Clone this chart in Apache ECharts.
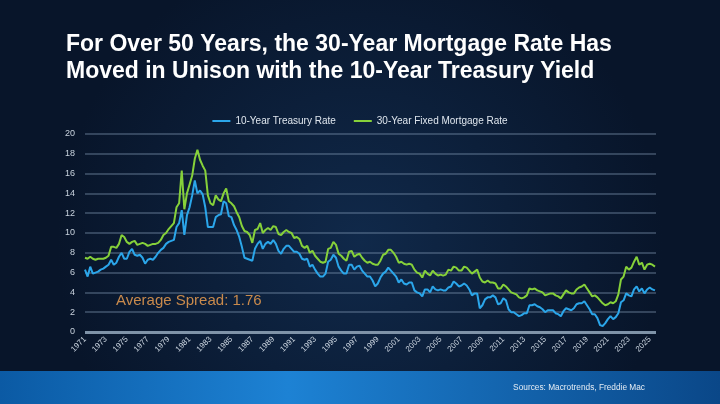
<!DOCTYPE html>
<html>
<head>
<meta charset="utf-8">
<script src="https://cdn.jsdelivr.net/npm/echarts@6/dist/echarts.min.js"></script>
<style>
  html, body { margin: 0; padding: 0; background: #0a1a2d; }
  #chart { width: 720px; height: 404px; }
</style>
</head>
<body>
<div id="chart"></div>
<script>
// quarterly samples, first value is Q1 1971
const startYear = 1971
const treasury = [
  6.3, 5.6, 6.6, 5.9,   6.0, 6.1, 6.3, 6.4,   6.6, 6.8, 7.3, 6.8,   7.0, 7.6, 8.0, 7.4,
  7.4, 8.1, 8.4, 7.8,   7.7, 7.8, 7.5, 6.9,   7.3, 7.4, 7.3, 7.6,   8.0, 8.3, 8.5, 8.9,
  9.1, 9.2, 9.3, 10.6,  11.0, 12.3, 9.8, 11.8, 12.6, 13.8, 15.3, 14.0, 14.3, 13.9, 12.6, 10.6,
  10.6, 10.6, 11.6, 11.8, 11.9, 13.2, 13.0, 11.7, 11.6, 10.8, 10.3, 9.6, 8.6, 7.5, 7.4, 7.3,
  7.2, 8.4, 8.9, 9.2,   8.4, 8.9, 9.1, 8.9,   9.3, 8.9, 8.2, 7.9,   8.4, 8.7, 8.7, 8.4,
  8.1, 8.1, 7.9, 7.4,   7.3, 7.4, 6.6, 6.8,   6.3, 5.9, 5.6, 5.6,   5.9, 7.1, 7.3, 7.8,
  7.5, 6.6, 6.2, 5.9,   5.9, 6.8, 6.8, 6.3,   6.6, 6.7, 6.2, 5.9,   5.6, 5.6, 5.2, 4.6,
  4.9, 5.5, 5.9, 6.1,   6.5, 6.2, 5.9, 5.6,   5.0, 5.3, 4.9, 4.8,   5.0, 5.0, 4.2, 4.0,
  3.9, 3.6, 4.3, 4.3,   4.0, 4.6, 4.3, 4.2,   4.3, 4.2, 4.2, 4.5,   4.6, 5.1, 4.9, 4.6,
  4.7, 4.9, 4.7, 4.3,   3.7, 3.9, 3.9, 2.4,   2.7, 3.3, 3.5, 3.5,   3.7, 3.5, 2.8, 2.9,
  3.4, 3.2, 2.3, 2.0,   2.0, 1.8, 1.6, 1.7,   1.9, 1.9, 2.7, 2.7,   2.8, 2.6, 2.5, 2.3,
  2.0, 2.2, 2.2, 2.2,   1.9, 1.8, 1.6, 2.1,   2.4, 2.3, 2.2, 2.4,   2.8, 2.9, 2.9, 3.1,
  2.7, 2.3, 1.8, 1.8,   1.4, 0.7, 0.6, 0.9,   1.3, 1.6, 1.3, 1.5,   1.9, 3.0, 3.2, 3.9,
  3.7, 3.6, 4.3, 4.6,   4.1, 4.4, 3.9, 4.3,   4.5, 4.3, 4.2
]
const mortgage = [
  7.5, 7.4, 7.6, 7.4,   7.3, 7.4, 7.4, 7.4,   7.5, 7.7, 8.6, 8.6,   8.5, 8.9, 9.8, 9.6,
  9.1, 8.9, 9.1, 9.2,   8.8, 8.9, 9.0, 8.9,   8.7, 8.8, 8.9, 8.9,   9.0, 9.3, 9.8, 10.0,
  10.4, 10.7, 11.0, 12.6, 13.0, 16.3, 12.4, 14.0, 14.9, 15.8, 17.5, 18.4, 17.4, 16.8, 16.3, 13.8,
  13.0, 12.8, 13.8, 13.4, 13.2, 14.0, 14.5, 13.2, 13.0, 12.7, 12.1, 11.6, 10.7, 10.2, 10.1, 9.8,
  9.0, 10.3, 10.4, 11.0, 10.0, 10.3, 10.5, 10.3, 10.7, 10.6, 9.9, 9.8, 10.1, 10.3, 10.1, 10.0,
  9.5, 9.6, 9.4, 8.7,   8.5, 8.7, 8.0, 8.2,   7.7, 7.4, 7.1, 7.0,   7.1, 8.4, 8.5, 9.1,
  8.8, 7.9, 7.7, 7.4,   7.2, 8.1, 8.2, 7.6,   7.8, 7.9, 7.5, 7.2,   7.0, 7.1, 6.9, 6.8,
  6.8, 7.2, 7.8, 7.9,   8.3, 8.3, 8.0, 7.6,   7.0, 7.1, 6.9, 6.8,   6.9, 6.8, 6.3, 6.0,
  5.9, 5.5, 6.2, 5.9,   5.7, 6.2, 5.9, 5.7,   5.8, 5.7, 5.8, 6.3,   6.2, 6.6, 6.5, 6.2,
  6.2, 6.6, 6.5, 6.2,   5.9, 6.1, 6.3, 5.5,   5.1, 5.0, 5.2, 5.0,   5.0, 4.9, 4.4, 4.4,
  4.8, 4.6, 4.3, 4.0,   3.9, 3.8, 3.5, 3.4,   3.5, 3.7, 4.4, 4.3,   4.4, 4.2, 4.1, 4.0,
  3.7, 3.8, 3.9, 3.9,   3.7, 3.6, 3.4, 3.8,   4.2, 4.0, 3.9, 3.9,   4.3, 4.5, 4.6, 4.8,
  4.4, 4.0, 3.6, 3.7,   3.5, 3.2, 2.9, 2.7,   2.8, 3.0, 2.9, 3.1,   3.8, 5.3, 5.6, 6.6,
  6.3, 6.5, 7.1, 7.6,   6.8, 7.0, 6.3, 6.8,   6.9, 6.8, 6.6
]
const avgSpread = 1.76

function toPoints(values) {
  return values.map((v, i) => [startYear + i / 4, v])
}

const chart = echarts.init(document.getElementById('chart'))

chart.setOption({
  backgroundColor: {
    type: 'radial', x: 0.5, y: 0.6, r: 0.75,
    colorStops: [
      { offset: 0, color: '#10294a' },
      { offset: 1, color: '#08152a' }
    ]
  },
  animation: false,
  title: {
    text: 'For Over 50 Years, the 30-Year Mortgage Rate Has\nMoved in Unison with the 10-Year Treasury Yield',
    left: 61,
    top: 26,
    textStyle: {
      color: '#ffffff',
      fontSize: 23,
      fontWeight: 'bold',
      lineHeight: 27,
      fontFamily: 'Liberation Sans, Arial, sans-serif'
    }
  },
  legend: {
    top: 111,
    left: 'center',
    icon: 'rect',
    itemWidth: 18,
    itemHeight: 2,
    itemGap: 18,
    textStyle: { color: '#dfe6ee', fontSize: 10, fontFamily: 'Liberation Sans, Arial, sans-serif' },
    data: ['10-Year Treasury Rate', '30-Year Fixed Mortgage Rate']
  },
  grid: { left: 85, right: 64, top: 134, bottom: 72 },
  xAxis: {
    type: 'value',
    min: 1971,
    max: 2025.6,
    interval: 2,
    splitLine: { show: false },
    axisTick: { show: false },
    axisLine: { show: false },
    axisLabel: {
      rotate: 45,
      color: '#c9d3de',
      fontSize: 8,
      margin: 6,
      showMaxLabel: false,
      fontFamily: 'Liberation Sans, Arial, sans-serif',
      formatter: v => String(v)
    }
  },
  yAxis: {
    type: 'value',
    min: 0,
    max: 20,
    interval: 2,
    axisLine: { show: false },
    axisTick: { show: false },
    axisLabel: { color: '#c9d3de', fontSize: 9, margin: 10, fontFamily: 'Liberation Sans, Arial, sans-serif' },
    splitLine: { lineStyle: { color: 'rgba(140,165,190,0.45)', width: 1.5 } }
  },
  series: [
    {
      name: '10-Year Treasury Rate',
      type: 'line',
      data: toPoints(treasury),
      showSymbol: false,
      color: '#2ba6ea',
      lineStyle: { width: 2, color: '#2ba6ea' },
      markLine: {
        silent: true,
        symbol: 'none',
        label: { show: false },
        lineStyle: { color: '#7f93a8', width: 3, type: 'solid' },
        data: [{ yAxis: 0 }]
      }
    },
    {
      name: '30-Year Fixed Mortgage Rate',
      type: 'line',
      data: toPoints(mortgage),
      showSymbol: false,
      color: '#86d13a',
      lineStyle: { width: 2, color: '#86d13a' }
    }
  ],
  graphic: [
    {
      type: 'rect',
      left: 0,
      top: 371,
      shape: { width: 720, height: 33 },
      style: {
        fill: {
          type: 'linear', x: 0, y: 0, x2: 1, y2: 0,
          colorStops: [
            { offset: 0, color: '#0b5aa4' },
            { offset: 0.4, color: '#1d82d4' },
            { offset: 1, color: '#0a4788' }
          ]
        }
      },
      z: -1
    },
    {
      type: 'text',
      right: 75,
      top: 384,
      style: {
        text: 'Sources: Macrotrends, Freddie Mac',
        fill: '#e4ecf4',
        fontSize: 8.3,
        fontFamily: 'Liberation Sans, Arial, sans-serif'
      }
    },
    {
      type: 'text',
      left: 116,
      top: 293,
      style: {
        text: 'Average Spread: ' + avgSpread,
        fill: '#c98a4c',
        fontSize: 15,
        fontFamily: 'Liberation Sans, Arial, sans-serif'
      }
    }
  ]
})
</script>
</body>
</html>
